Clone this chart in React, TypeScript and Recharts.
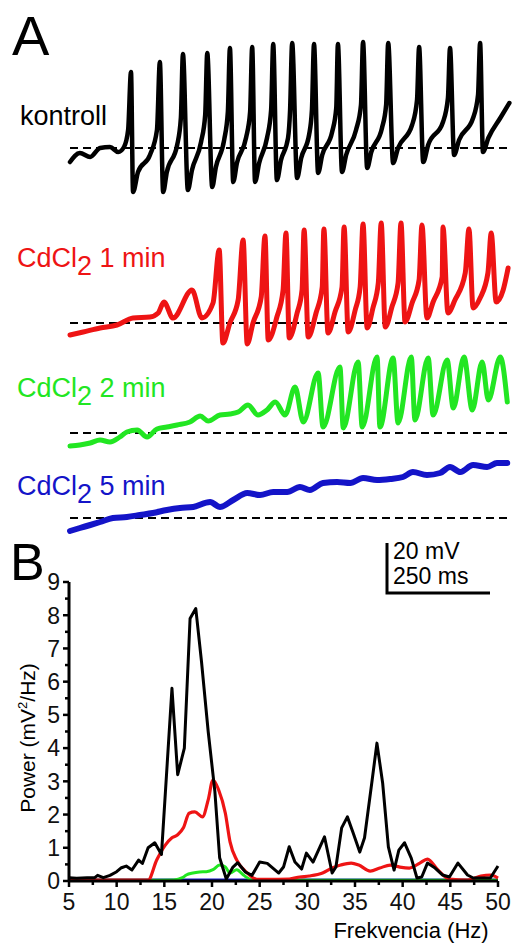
import { LineChart, Line, XAxis, YAxis, ReferenceLine } from "recharts"

const FONT = '"Liberation Sans", Arial, sans-serif'
const RED = '#ee1414'
const GREEN = '#22e622'
const BLUE = '#1414c8'

// panel A traces: time (ms) and membrane potential relative to the dashed baseline (mV)
const controlT = [0,24,49,73,97,117,131,141,148,153,165,194,211,218,226,235,260,269,274,286,296,318,328,333,345,354,374,383,388,396,405,427,437,442,449,459,478,488,493,502,512,529,534,539,551,561,580,587,592,602,612,636,646,650,660,670,694,706,711,721,731,757,767,772,784,796,830,842,847,857,869,905,917,922,932,944,978,990,995,1002,1015,1044,1066]
const controlMv = [-5.6,-2.0,-3.6,0,0.4,-1.6,0.4,7.2,30.4,-17.6,-9.6,-2.8,7.2,34.4,-17.6,-9.6,1.2,12,37.6,-16.8,-8.8,2.4,13.2,38,-15.6,-7.6,3.2,14.4,40,-13.6,-6,4,14.4,40.4,-13.6,-6,4,15.2,41.6,-12.8,-4.8,4,15.2,42,-12,-4,5.2,15.2,41.6,-10,-2.8,6.4,16,41.6,-9.6,-2.8,7.2,17.2,42.4,-8,-1.6,8,17.2,42,-6,0,9.2,19.2,40.4,-5.6,1.2,10.4,20,40,-2.8,3.2,12,21.2,42,-1.6,4,12,18]

const cd1T = [0,32,73,114,153,194,214,228,250,296,320,347,362,371,388,408,420,430,444,464,473,481,502,517,524,532,551,563,568,578,597,612,616,626,643,660,665,675,692,704,711,721,735,748,755,765,781,796,803,813,830,847,854,866,881,903,905,917,934,959,968,978,995,1014,1022,1034,1051,1063]
const cd1Mv = [-4.8,-3.6,-2,-0.8,2,2.4,4,8.4,2,13.2,2,8,29.2,-8,0,9.2,33.2,-8.4,0,10.4,34.8,-6.8,2.4,13.2,36,-6,4,13.2,37.2,-5.6,4,14.4,37.6,-4,4.4,14.4,38.4,-3.6,5.2,14.4,39.6,-2,6,16,40,-1.6,6.4,16,40,0.4,8,17.2,39.2,2,8.4,18.4,38.4,4,9.2,20,37.6,6,10,20,36,8.4,13.2,22]

const cd2T = [0,24,49,73,97,121,138,163,187,211,235,260,291,316,335,364,388,408,432,456,478,498,522,546,566,602,614,655,663,699,709,745,752,784,796,828,837,869,881,915,930,956,976,1000,1015,1044,1061]
const cd2Mv = [-5.2,-4.8,-4,-2.8,-3.6,-1.6,0.4,1.2,-1.6,1.6,2.4,3.2,4.4,6.8,4.8,7.2,7.6,8.4,11.2,7.2,9.2,12.4,7.2,18.4,4.4,24,2.4,26.4,2,28.4,2.4,30.4,2.4,30,4,30.4,5.2,30,7.2,29.2,10,30.4,9.2,28.4,13.2,30.4,12.4]

const cd5T = [0,24,49,73,104,138,170,201,235,267,299,340,364,396,430,461,493,527,558,582,614,648,680,711,745,777,808,832,866,898,922,947,978,1012,1036,1061]
const cd5Mv = [-5.2,-4,-2.8,-1.6,0,0.4,1.2,2,3.2,4,4.4,6.4,4.4,7.2,10,9.2,10.4,10.4,12.4,11.2,14,14.4,14,16,15.2,15.6,16.4,18.4,17.2,18,20.4,18.4,21.2,20.4,22,22]

// panel B power spectra: frequency (Hz) and power (mV^2/Hz)
const ctrlF = [5,5.8,6.9,7.7,8,8.6,9.3,10,10.5,11,11.6,12.3,12.7,13.3,14,14.7,15.8,16.4,17.1,17.7,18.3,18.9,19.6,20.3,20.8,21.5,22.2,22.7,23.5,24.2,25,25.8,27,27.5,28.1,28.7,29.4,29.9,30.6,31.8,32.6,33,33.6,34.2,34.8,35.5,36,36.8,37.3,37.9,38.5,39.1,39.6,40.2,40.9,41.5,42,42.6,43.4,44.2,44.9,45.8,46.8,47.4,49.2,50]
const ctrlP = [0.1,0.08,0.1,0.1,0.17,0.1,0.17,0.28,0.4,0.45,0.33,0.63,0.53,1.0,1.15,0.8,5.8,3.2,4.0,7.9,8.2,6.6,4.5,2.7,0.7,0.06,0.42,0.55,0.27,0.17,0.57,0.53,0.24,0.42,1.03,0.57,0.36,0.84,0.57,1.33,0.24,0.42,1.6,1.93,1.45,0.87,1.3,3.04,4.15,2.95,1.03,0.33,0.93,1.15,0.69,0.09,0.12,0.54,0.39,0.18,0.12,0.54,0.18,0.09,0.09,0.45]
const cd1F = [5,8,13.3,14.2,15.1,15.8,16.4,17,17.6,18.2,19,19.6,20.1,20.7,21.4,21.9,22.6,23.7,24.7,25.8,28.1,29.2,30.2,31.6,32.6,33.5,34.6,35.4,36.6,37.6,38.7,39.7,40.7,41.8,42.6,43.7,44.9,46.8,48.2,49.2,50]
const cd1P = [0.08,0.03,0.03,0.63,1.08,1.3,1.39,1.6,2.04,2.08,1.93,2.44,3.04,2.74,2.04,1.17,0.63,0.24,0.05,0.05,0.06,0.12,0.15,0.24,0.39,0.48,0.54,0.48,0.3,0.39,0.48,0.42,0.39,0.54,0.66,0.33,0.06,0.03,0.15,0.18,0.09]
const cd2F = [5,13,16,16.9,17.3,18,18.7,19.4,20.1,20.8,21.4,21.9,22.6,23.3,24.2,30,40,50]
const cd2P = [0.02,0.02,0.03,0.1,0.18,0.24,0.27,0.28,0.34,0.48,0.42,0.24,0.34,0.18,0.03,0.02,0.02,0.02]
const cd5F = [5,50]
const cd5P = [0.03,0.03]

const xTicks = [5,7.5,10,12.5,15,17.5,20,22.5,25,27.5,30,32.5,35,37.5,40,42.5,45,47.5,50]
const yTicks = [0,0.5,1,1.5,2,2.5,3,3.5,4,4.5,5,5.5,6,6.5,7,7.5,8,8.5,9]

const zipTrace = (t: number[], v: number[]) => t.map((x, i) => ({ t: x, v: v[i] }))
const zipSpec = (f: number[], p: number[]) => f.map((x, i) => ({ f: x, p: p[i] }))

type TraceProps = { data: { t: number; v: number }[]; color: string; top: number; height: number; domain: [number, number]; width: number }

const Trace = ({ data, color, top, height, domain, width }: TraceProps) => (
  <div style={{ position: 'absolute', left: 60, top }}>
    <LineChart width={452} height={height} data={data} margin={{ top: 0, right: 1, left: 10, bottom: 0 }}>
      <XAxis type="number" dataKey="t" domain={[0, 1070]} hide />
      <YAxis type="number" domain={domain} hide width={0} allowDataOverflow />
      <ReferenceLine y={0} stroke="#000" strokeWidth={2} strokeDasharray="8 5" />
      <Line dataKey="v" stroke={color} strokeWidth={width} dot={false} type="monotone" strokeLinejoin="round" strokeLinecap="round" isAnimationActive={false} />
    </LineChart>
  </div>
)

const AXIS_X = 69
const AXIS_Y = 321

const XTick = (props: any) => {
  const { x, payload } = props
  const major = payload.value % 5 === 0
  return (
    <g>
      <line x1={x} x2={x} y1={AXIS_Y} y2={AXIS_Y + (major ? 6 : 4)} stroke="#000" strokeWidth={2.5} />
      {major && (
        <text x={x} y={AXIS_Y + 29} textAnchor="middle" fontSize={23} fontFamily={FONT} fill="#111">{payload.value}</text>
      )}
    </g>
  )
}

const YTick = (props: any) => {
  const { y, payload } = props
  const major = Number.isInteger(payload.value)
  return (
    <g>
      <line x1={AXIS_X} x2={AXIS_X - (major ? 6 : 4)} y1={y} y2={y} stroke="#000" strokeWidth={2.5} />
      {major && (
        <text x={AXIS_X - 9} y={y} dy="0.36em" textAnchor="end" fontSize={23} fontFamily={FONT} fill="#111">{payload.value}</text>
      )}
    </g>
  )
}

const Spectrum = () => (
  <div style={{ position: 'absolute', left: 0, top: 560 }}>
    <LineChart width={512} height={383} margin={{ top: 22, right: 14, left: 0, bottom: 0 }}>
      <XAxis type="number" dataKey="f" domain={[5, 50]} ticks={xTicks} interval={0} height={62}
        axisLine={{ stroke: '#000', strokeWidth: 3 }} tickLine={false} tick={(p: any) => <XTick {...p} />} />
      <YAxis type="number" domain={[0, 9]} ticks={yTicks} interval={0} width={69}
        axisLine={{ stroke: '#000', strokeWidth: 3 }} tickLine={false} tick={(p: any) => <YTick {...p} />} />
      <Line data={zipSpec(cd5F, cd5P)} dataKey="p" stroke={BLUE} strokeWidth={3} dot={false} isAnimationActive={false} />
      <Line data={zipSpec(cd2F, cd2P)} dataKey="p" type="monotone" stroke={GREEN} strokeWidth={3} dot={false} isAnimationActive={false} />
      <Line data={zipSpec(cd1F, cd1P)} dataKey="p" type="monotone" stroke={RED} strokeWidth={3.2} dot={false} isAnimationActive={false} />
      <Line data={zipSpec(ctrlF, ctrlP)} dataKey="p" stroke="#000" strokeWidth={3} dot={false} strokeLinejoin="round" isAnimationActive={false} />
    </LineChart>
  </div>
)

const CdLabel = ({ y, color, mins }: { y: number; color: string; mins: string }) => (
  <text x={17} y={y} fontSize={27} fill={color} fontFamily={FONT}>
    CdCl<tspan dy={8}>2</tspan><tspan dy={-8}>{' ' + mins + ' min'}</tspan>
  </text>
)

export default function App() {
  return (
    <div style={{ position: 'absolute', left: 0, top: 0, width: 512, height: 943, background: '#fff', overflow: 'hidden' }}>
      <Trace data={zipTrace(controlT, controlMv)} color="#000" top={30} height={180} domain={[-24.8, 47.2]} width={4.5} />
      <Trace data={zipTrace(cd1T, cd1Mv)} color={RED} top={200} height={180} domain={[-22.8, 49.2]} width={5} />
      <Trace data={zipTrace(cd2T, cd2Mv)} color={GREEN} top={330} height={140} domain={[-14.8, 41.2]} width={5} />
      <Trace data={zipTrace(cd5T, cd5Mv)} color={BLUE} top={440} height={105} domain={[-10.8, 31.2]} width={6} />
      <Spectrum />
      <svg width={512} height={943} style={{ position: 'absolute', left: 0, top: 0, pointerEvents: 'none' }}>
        <text x={12} y={55} fontSize={56} fontFamily={FONT}>A</text>
        <text x={10} y={580} fontSize={52} fontFamily={FONT}>B</text>
        <text x={20} y={125} fontSize={27} fontFamily={FONT}>kontroll</text>
        <CdLabel y={267} color={RED} mins="1" />
        <CdLabel y={397} color={GREEN} mins="2" />
        <CdLabel y={495} color={BLUE} mins="5" />
        <path d="M387 543 V593 H490" stroke="#000" strokeWidth={3} fill="none" />
        <text x={393} y={559} fontSize={23} fontFamily={FONT}>20 mV</text>
        <text x={393} y={584} fontSize={23} fontFamily={FONT}>250 ms</text>
        <text transform="translate(35,738) rotate(-90)" textAnchor="middle" fontSize={21} fontFamily={FONT}>
          Power (mV<tspan dy={-8} fontSize={13}>2</tspan><tspan dy={8}>/Hz)</tspan>
        </text>
        <text x={411} y={938} textAnchor="middle" fontSize={22} fontFamily={FONT}>Frekvencia (Hz)</text>
      </svg>
    </div>
  )
}
